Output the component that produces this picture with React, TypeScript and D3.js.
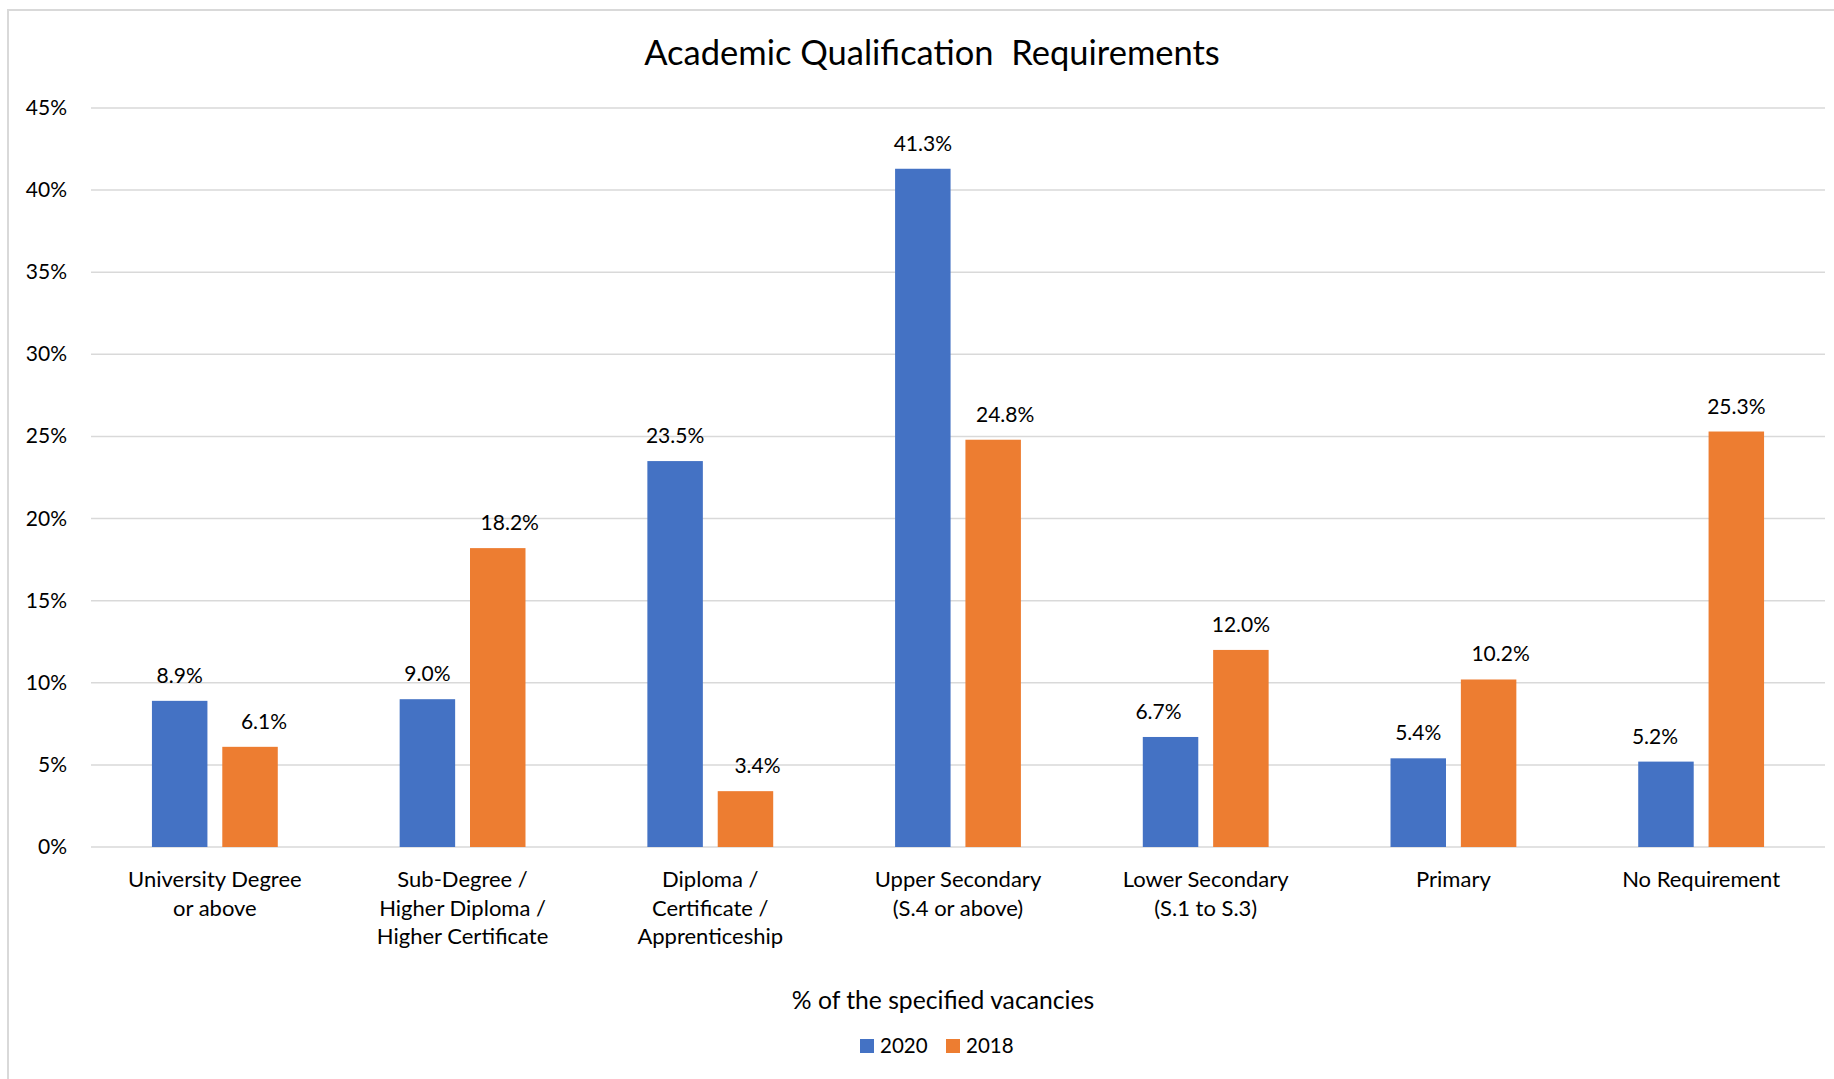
import React from "react";
import * as d3 from "d3";

const categories = [
  ["University Degree", "or above"],
  ["Sub-Degree /", "Higher Diploma /", "Higher Certificate"],
  ["Diploma /", "Certificate /", "Apprenticeship"],
  ["Upper Secondary", "(S.4 or above)"],
  ["Lower Secondary", "(S.1 to S.3)"],
  ["Primary"],
  ["No Requirement"],
];
const values2020 = [8.9, 9.0, 23.5, 41.3, 6.7, 5.4, 5.2];
const values2018 = [6.1, 18.2, 3.4, 24.8, 12.0, 10.2, 25.3];
const yTicks = [0, 5, 10, 15, 20, 25, 30, 35, 40, 45];
const seriesNames = ["2020", "2018"];

// hand-nudged data labels in the original (px, horizontal)
const labelShift2020 = [0, 0, 0, 0, -12, 0, -11];
const labelShift2018 = [14, 12, 12, 12, 0, 12, 0];

const W = 1834;
const H = 1079;
const margin = { top: 108, right: 9, bottom: 232, left: 91 };
const colors = ["#4472C4", "#ED7D31"];
const font = "Lato, 'Open Sans', sans-serif";

const App: React.FC = () => {
  const x = d3
    .scaleBand<number>()
    .domain(d3.range(categories.length))
    .range([margin.left, W - margin.right])
    .padding(0);
  const y = d3
    .scaleLinear()
    .domain([0, 45])
    .range([H - margin.bottom, margin.top]);

  const step = x.bandwidth();
  const barW = step * 0.224;
  const gap = step * 0.06;
  const series = [values2020, values2018];
  const shifts = [labelShift2020, labelShift2018];

  return (
    <svg
      width={W}
      height={H}
      style={{ position: "absolute", left: 0, top: 0, background: "#fff" }}
      fontFamily={font}
    >
      <rect x={8} y={10} width={W + 20} height={H + 20} fill="#fff" stroke="#D9D9D9" strokeWidth={2} />

      <text x={932} y={65} textAnchor="middle" fontSize={34.5} fill="#000">
        Academic Qualification{"\u00a0\u00a0"}Requirements
      </text>

      {/* grid + y labels */}
      {yTicks.map((t) => (
        <g key={t}>
          <line
            x1={margin.left}
            x2={W - margin.right}
            y1={y(t)}
            y2={y(t)}
            stroke="#D9D9D9"
            strokeWidth={1.5}
          />
          <text x={67} y={y(t) + 7} textAnchor="end" fontSize={21} fill="#000">
            {t}%
          </text>
        </g>
      ))}

      {/* bars */}
      {series.map((vals, si) =>
        vals.map((v, i) => {
          const cx = (x(i) as number) + step / 2;
          const bx = si === 0 ? cx - gap / 2 - barW : cx + gap / 2;
          return (
            <g key={`${si}-${i}`}>
              <rect x={bx} y={y(v)} width={barW} height={y(0) - y(v)} fill={colors[si]} />
              <text
                x={bx + barW / 2 + shifts[si][i]}
                y={y(v) - 18}
                textAnchor="middle"
                fontSize={21}
                fill="#000"
              >
                {v.toFixed(1)}%
              </text>
            </g>
          );
        })
      )}

      {/* category labels */}
      {categories.map((lines, i) => (
        <text
          key={i}
          x={(x(i) as number) + step / 2}
          y={887}
          textAnchor="middle"
          fontSize={22}
          fill="#000"
        >
          {lines.map((l, j) => (
            <tspan key={j} x={(x(i) as number) + step / 2} dy={j === 0 ? 0 : 28.5}>
              {l}
            </tspan>
          ))}
        </text>
      ))}

      <text x={943} y={1009} textAnchor="middle" fontSize={24.7} fill="#000">
        % of the specified vacancies
      </text>

      {/* legend */}
      {seriesNames.map((n, i) => (
        <g key={n} transform={`translate(${860 + i * 86}, 1039)`}>
          <rect x={0} y={0} width={14} height={14} fill={colors[i]} />
          <text x={20} y={14} fontSize={20.5} fill="#000">
            {n}
          </text>
        </g>
      ))}
    </svg>
  );
};

export default App;
